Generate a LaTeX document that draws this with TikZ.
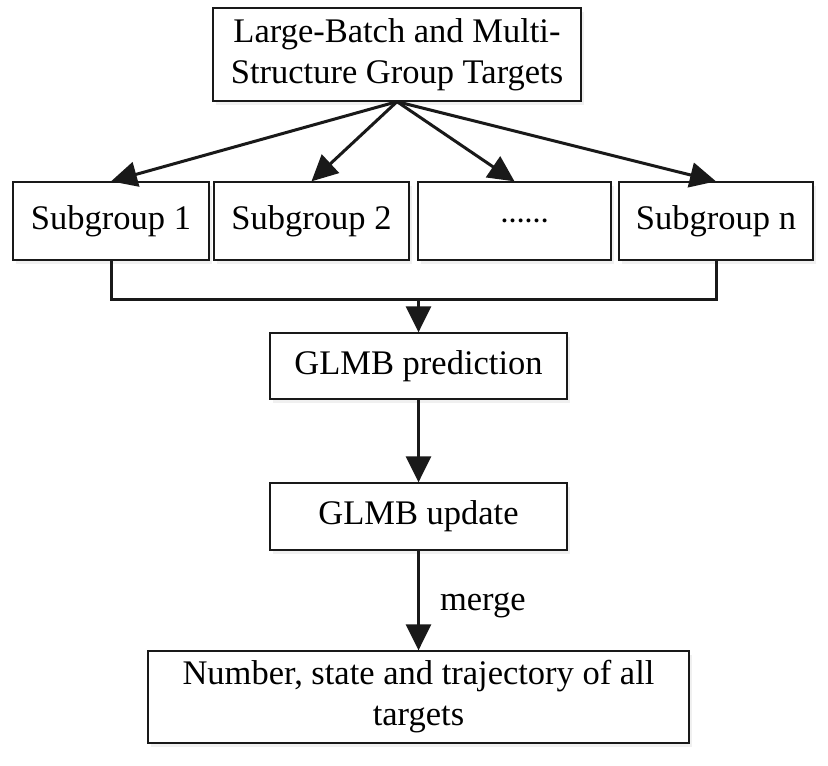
\documentclass[tikz,border=0pt]{standalone}
\usepackage{fontspec}
\setmainfont{Liberation Serif}
\usetikzlibrary{arrows.meta,shadows}
\begin{document}
\begin{tikzpicture}[x=1pt,y=-1pt,
  txt/.style={font=\fontsize{34.5}{41}\selectfont},
  box/.style={draw=black!90, line width=1.3pt, fill=white, align=center, inner sep=0pt, txt,
    drop shadow={opacity=0.12, shadow xshift=3pt, shadow yshift=-4pt}},
  conn/.style={line width=3pt, draw=black!90},
  arr/.style={conn, -{Triangle[length=26pt,width=25pt]}}]
\useasboundingbox (0,0) rectangle (828,766);
\node[box, minimum width=368pt, minimum height=93pt] (top) at (397,54.5) {Large-Batch and Multi-\\Structure Group Targets};
\node[box, minimum width=196pt, minimum height=78pt] (s1) at (111,221) {Subgroup 1};
\node[box, minimum width=195pt, minimum height=78pt] (s2) at (311.5,221) {Subgroup 2};
\node[box, minimum width=193pt, minimum height=78pt] (s3) at (514.5,221) {\hspace*{20pt}{\fontsize{24}{24}\selectfont\bfseries\raisebox{-2pt}{……}}};
\node[box, minimum width=194pt, minimum height=78pt] (s4) at (716,221) {Subgroup n};
\node[box, minimum width=297pt, minimum height=66pt] (pred) at (418.5,366) {GLMB prediction};
\node[box, minimum width=297pt, minimum height=67pt] (upd) at (418.5,516.5) {GLMB update};
\node[box, minimum width=541pt, minimum height=92pt] (fin) at (418.5,697) {Number, state and trajectory of all\\targets};
\coordinate (bus) at (418.5,299);
\draw[arr] (top.south) -- (s1.north);
\draw[arr] (top.south) -- (s2.north);
\draw[arr] (top.south) -- (s3.north);
\draw[arr] (top.south) -- (s4.north);
\draw[conn] (s1.south) |- (bus) -| (s4.south);
\draw[arr] (bus) -- (pred.north);
\draw[arr] (pred.south) -- (upd.north);
\draw[arr] (upd.south) -- node[right=20pt, pos=0.55, txt, inner sep=0pt] (mg) {merge} (fin.north);
\end{tikzpicture}
\end{document}
